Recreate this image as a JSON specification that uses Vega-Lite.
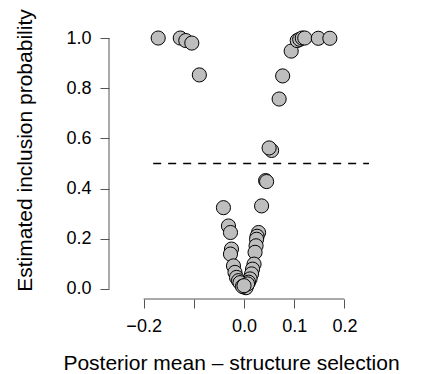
{
  "$schema": "https://vega.github.io/schema/vega-lite/v6.json",
  "width": 263,
  "height": 271,
  "autosize": {"type": "none"},
  "padding": {"left": 109, "top": 28, "right": 57, "bottom": 75},
  "background": "white",
  "config": {
    "view": {"stroke": null},
    "font": "Liberation Sans",
    "axis": {"grid": false, "domain": false, "tickColor": "#555", "tickSize": 9, "labelColor": "black", "titleColor": "black", "titleFontWeight": "normal", "labelFont": "Liberation Sans", "titleFont": "Liberation Sans"}
  },
  "datasets": {
    "points": [
      {"mean": -0.171, "prob": 1.0},
      {"mean": -0.127, "prob": 1.0},
      {"mean": -0.116, "prob": 0.99},
      {"mean": -0.104, "prob": 0.98},
      {"mean": -0.089, "prob": 0.853},
      {"mean": 0.094, "prob": 0.948},
      {"mean": 0.077, "prob": 0.849},
      {"mean": 0.070, "prob": 0.757},
      {"mean": 0.106, "prob": 0.99},
      {"mean": 0.111, "prob": 0.995},
      {"mean": 0.116, "prob": 1.0},
      {"mean": 0.121, "prob": 1.0},
      {"mean": 0.148, "prob": 0.999},
      {"mean": 0.171, "prob": 0.999},
      {"mean": 0.055, "prob": 0.552},
      {"mean": 0.050, "prob": 0.562},
      {"mean": 0.043, "prob": 0.432},
      {"mean": 0.045, "prob": 0.428},
      {"mean": -0.041, "prob": 0.324},
      {"mean": 0.035, "prob": 0.331},
      {"mean": -0.031, "prob": 0.251},
      {"mean": -0.027, "prob": 0.225},
      {"mean": -0.025, "prob": 0.159},
      {"mean": -0.027, "prob": 0.139},
      {"mean": -0.021, "prob": 0.092},
      {"mean": -0.018, "prob": 0.066},
      {"mean": -0.015, "prob": 0.046},
      {"mean": -0.011, "prob": 0.033},
      {"mean": -0.005, "prob": 0.020},
      {"mean": 0.002, "prob": 0.013},
      {"mean": 0.029, "prob": 0.225},
      {"mean": 0.026, "prob": 0.21},
      {"mean": 0.025, "prob": 0.198},
      {"mean": 0.024, "prob": 0.172},
      {"mean": 0.022, "prob": 0.146},
      {"mean": 0.020, "prob": 0.099},
      {"mean": 0.017, "prob": 0.079},
      {"mean": 0.015, "prob": 0.060},
      {"mean": 0.012, "prob": 0.040},
      {"mean": 0.009, "prob": 0.027},
      {"mean": 0.005, "prob": 0.013},
      {"mean": -0.008, "prob": 0.025},
      {"mean": 0.0, "prob": 0.008},
      {"mean": 0.004, "prob": 0.005},
      {"mean": 0.007, "prob": 0.02},
      {"mean": -0.003, "prob": 0.01},
      {"mean": 0.0, "prob": 0.013}
    ],
    "axislines": [
      {"mean": -0.2, "mean2": 0.2, "prob": -0.04, "prob2": -0.04},
      {"mean": -0.269, "mean2": -0.269, "prob": 0, "prob2": 1}
    ],
    "refline": [
      {"mean": -0.181, "mean2": 0.249, "prob": 0.5}
    ]
  },
  "layer": [
    {
      "data": {"name": "axislines"},
      "mark": {"type": "rule", "color": "#555", "strokeWidth": 1},
      "encoding": {
        "x": {
          "field": "mean", "type": "quantitative",
          "scale": {"domain": [-0.269, 0.255], "nice": false, "zero": false},
          "axis": {
            "title": "Posterior mean \u2013 structure selection",
            "values": [-0.2, -0.1, 0, 0.1, 0.2],
            "labelExpr": "datum.value == -0.1 ? '' : format(datum.value, '.1f')",
            "labelFontSize": 18, "titleFontSize": 21,
            "labelPadding": 9, "labelOverlap": false, "labelFlush": false,
            "titleX": 122, "titleY": 70, "titleBaseline": "alphabetic", "titleAlign": "center"
          }
        },
        "x2": {"field": "mean2"},
        "y": {
          "field": "prob", "type": "quantitative",
          "scale": {"domain": [-0.04, 1.04], "nice": false, "zero": false},
          "axis": {
            "title": "Estimated inclusion probability",
            "values": [0, 0.2, 0.4, 0.6, 0.8, 1.0],
            "format": ".1f",
            "labelFontSize": 18, "titleFontSize": 21,
            "labelPadding": 9, "labelOverlap": false, "labelFlush": false,
            "titleX": -78, "titleY": 122, "titleBaseline": "alphabetic", "titleAlign": "center", "titleAngle": -90
          }
        },
        "y2": {"field": "prob2"}
      }
    },
    {
      "data": {"name": "refline"},
      "mark": {"type": "rule", "color": "black", "strokeWidth": 1.5, "strokeDash": [8, 7]},
      "encoding": {
        "x": {"field": "mean", "type": "quantitative"},
        "x2": {"field": "mean2"},
        "y": {"field": "prob", "type": "quantitative"}
      }
    },
    {
      "data": {"name": "points"},
      "mark": {"type": "point", "shape": "circle", "filled": true, "fill": "#BEBEBE", "stroke": "black", "strokeWidth": 1, "size": 200, "opacity": 1, "fillOpacity": 1},
      "encoding": {
        "x": {"field": "mean", "type": "quantitative"},
        "y": {"field": "prob", "type": "quantitative"}
      }
    }
  ]
}
